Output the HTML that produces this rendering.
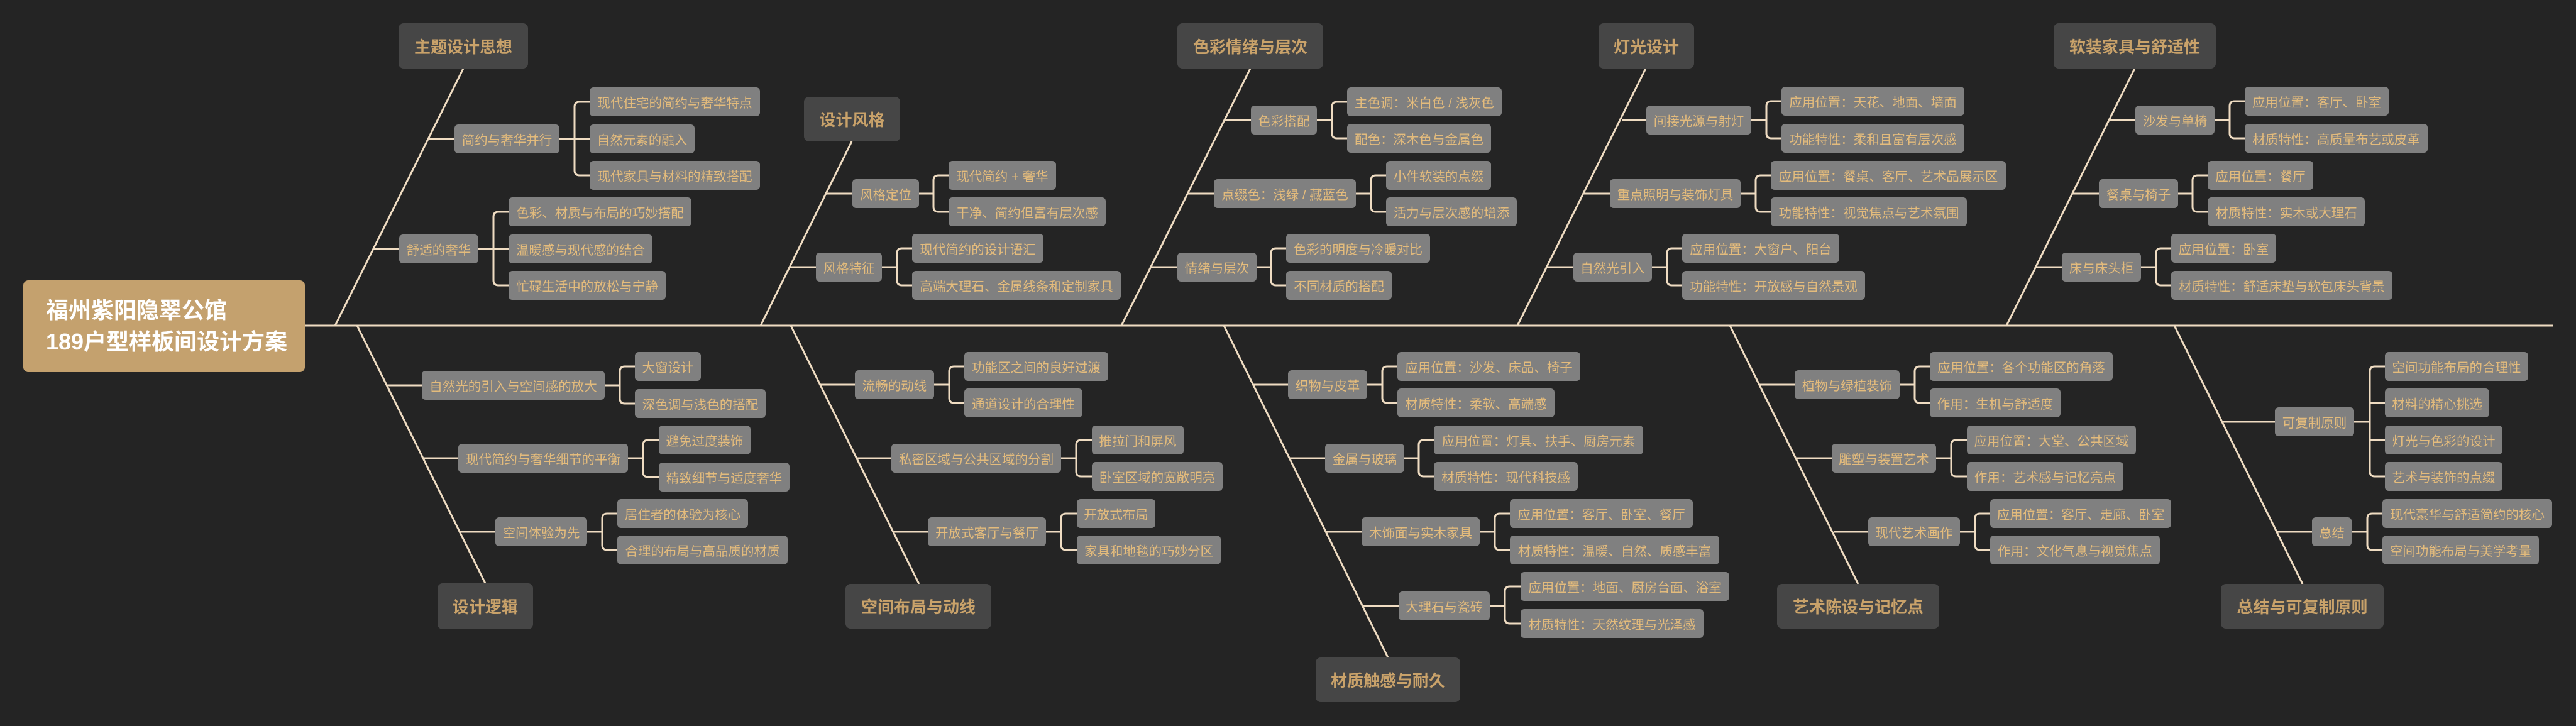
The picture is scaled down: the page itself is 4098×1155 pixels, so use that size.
<!DOCTYPE html>
<html><head><meta charset="utf-8"><style>
body{margin:0;background:#242424;width:4098px;height:1155px;overflow:hidden;position:relative;font-family:"Liberation Sans","Noto Sans CJK SC",sans-serif;}
svg{position:absolute;left:0;top:0}
.n,.c,.m{position:absolute;display:flex;align-items:center;justify-content:center;white-space:nowrap;box-sizing:border-box}
.n{background:#808080;color:#e3bb7c;font-size:20.5px;border-radius:6px;height:46px}
.c{background:#464646;color:#c9a26a;font-size:26px;font-weight:bold;border-radius:8px}
.m{background:#c4a16e;color:#fff;font-size:36px;font-weight:bold;border-radius:8px;flex-direction:column;align-items:flex-start;padding-left:36px;line-height:50px}
</style></head><body>
<svg width="4098" height="1155" fill="none" stroke="#efdcc2" stroke-width="3">
<path d="M485 518H4062"/>
<path d="M737 109L533 518M1355 225L1210 518M1989 109L1784 518M2618 109L2414 518M3396 109L3192 518"/>
<path d="M568 518L772 928M1258 518L1462 929M1947 518L2208 1046M2752 518L2956 929M3459 518L3663 929"/>
<!-- G1 -->
<path d="M681 221H723M890 221H938M914 221V170Q914 162 922 162H938M914 221V271Q914 279 922 279H938"/>
<!-- G2 -->
<path d="M594 396H635M761 396H809M785 396V345Q785 337 793 337H809M785 396V446Q785 454 793 454H809"/>
<path d="M1316 308H1356M1462 308H1485V287Q1485 279 1493 279H1509M1485 308V329Q1485 337 1493 337H1509"/>
<path d="M1257 425H1298M1403 425H1427V403Q1427 395 1435 395H1451M1427 425V446Q1427 454 1435 454H1451"/>
<path d="M1948 191H1990M2095 191H2119V170Q2119 162 2127 162H2143M2119 191V212Q2119 220 2127 220H2143"/>
<path d="M1890 308H1931M2157 308H2181V287Q2181 279 2189 279H2205M2181 308V329Q2181 337 2189 337H2205"/>
<path d="M1831 425H1873M1999 425H2022V403Q2022 395 2030 395H2046M2022 425V446Q2022 454 2030 454H2046"/>
<path d="M2580 191H2619M2786 191H2810V169Q2810 161 2818 161H2834M2810 191V212Q2810 220 2818 220H2834"/>
<path d="M2520 308H2561M2769 308H2793V287Q2793 279 2801 279H2817M2793 308V329Q2793 337 2801 337H2817"/>
<path d="M2461 425H2503M2628 425H2652V403Q2652 395 2660 395H2676M2652 425V446Q2652 454 2660 454H2676"/>
<path d="M3356 191H3397M3523 191H3547V169Q3547 161 3555 161H3571M3547 191V212Q3547 220 3555 220H3571"/>
<path d="M3297 308H3339M3465 308H3488V287Q3488 279 3496 279H3512M3488 308V329Q3488 337 3496 337H3512"/>
<path d="M3238 425H3280M3406 425H3430V403Q3430 395 3438 395H3454M3430 425V446Q3430 454 3438 454H3454"/>
<!-- bottom -->
<path d="M616 613H671M962 613H986V591Q986 583 994 583H1010M986 613V634Q986 642 994 642H1010"/>
<path d="M673 729H729M999 729H1023V708Q1023 700 1031 700H1048M1023 729V751Q1023 759 1031 759H1048"/>
<path d="M730 846H788M934 846H958V825Q958 817 966 817H982M958 846V867Q958 875 966 875H982"/>
<path d="M1305 612H1360M1486 612H1510V591Q1510 583 1518 583H1534M1510 612V633Q1510 641 1518 641H1534"/>
<path d="M1363 729H1418M1688 729H1712V708Q1712 700 1720 700H1737M1712 729V750Q1712 758 1720 758H1737"/>
<path d="M1421 846H1476M1664 846H1688V825Q1688 817 1696 817H1713M1688 846V867Q1688 875 1696 875H1713"/>
<path d="M1993 612H2049M2175 612H2199V591Q2199 583 2207 583H2223M2199 612V633Q2199 641 2207 641H2223"/>
<path d="M2052 729H2108M2234 729H2257V708Q2257 700 2265 700H2281M2257 729V750Q2257 758 2265 758H2281"/>
<path d="M2110 846H2166M2354 846H2378V825Q2378 817 2386 817H2402M2378 846V867Q2378 875 2386 875H2402"/>
<path d="M2169 964H2225M2370 964H2394V941Q2394 933 2402 933H2419M2394 964V984Q2394 992 2402 992H2419"/>
<path d="M2799 612H2855M3022 612H3046V591Q3046 583 3054 583H3070M3046 612V633Q3046 641 3054 641H3070"/>
<path d="M2858 729H2914M3080 729H3104V708Q3104 700 3112 700H3129M3104 729V750Q3104 758 3112 758H3129"/>
<path d="M2917 846H2972M3118 846H3142V825Q3142 817 3150 817H3166M3142 846V867Q3142 875 3150 875H3166"/>
<path d="M3534 671H3619M3745 671H3770M3770 591Q3770 583 3778 583H3794M3770 591V750Q3770 758 3778 758H3794M3770 641H3794M3770 700H3794"/>
<path d="M3622 846H3678M3741 846H3766V825Q3766 817 3774 817H3790M3766 846V867Q3766 875 3774 875H3790"/>
</svg>

<div class="m" style="left:37px;top:446px;width:448px;height:146px"><div>福州紫阳隐翠公馆</div><div>189户型样板间设计方案</div></div>

<div class="c" style="left:634px;top:37px;width:206px;height:72px">主题设计思想</div>
<div class="c" style="left:1279px;top:154px;width:153px;height:71px">设计风格</div>
<div class="c" style="left:1873px;top:37px;width:232px;height:72px">色彩情绪与层次</div>
<div class="c" style="left:2543px;top:37px;width:152px;height:72px">灯光设计</div>
<div class="c" style="left:3267px;top:37px;width:258px;height:72px">软装家具与舒适性</div>
<div class="c" style="left:696px;top:928px;width:152px;height:73px">设计逻辑</div>
<div class="c" style="left:1345px;top:929px;width:232px;height:71px">空间布局与动线</div>
<div class="c" style="left:2093px;top:1046px;width:230px;height:71px">材质触感与耐久</div>
<div class="c" style="left:2827px;top:929px;width:258px;height:71px">艺术陈设与记忆点</div>
<div class="c" style="left:3533px;top:929px;width:259px;height:71px">总结与可复制原则</div>

<div class="n" style="left:723px;top:198px;width:167px">简约与奢华并行</div>
<div class="n" style="left:938px;top:139px;width:271px">现代住宅的简约与奢华特点</div>
<div class="n" style="left:938px;top:198px;width:167px">自然元素的融入</div>
<div class="n" style="left:938px;top:256px;width:271px">现代家具与材料的精致搭配</div>
<div class="n" style="left:635px;top:373px;width:126px">舒适的奢华</div>
<div class="n" style="left:809px;top:314px;width:291px">色彩、材质与布局的巧妙搭配</div>
<div class="n" style="left:809px;top:373px;width:229px">温暖感与现代感的结合</div>
<div class="n" style="left:809px;top:431px;width:250px">忙碌生活中的放松与宁静</div>

<div class="n" style="left:1356px;top:285px;width:106px">风格定位</div>
<div class="n" style="left:1509px;top:256px;width:171px">现代简约 + 奢华</div>
<div class="n" style="left:1509px;top:314px;width:250px">干净、简约但富有层次感</div>
<div class="n" style="left:1298px;top:402px;width:105px">风格特征</div>
<div class="n" style="left:1451px;top:372px;width:209px">现代简约的设计语汇</div>
<div class="n" style="left:1451px;top:431px;width:332px">高端大理石、金属线条和定制家具</div>

<div class="n" style="left:1990px;top:168px;width:105px">色彩搭配</div>
<div class="n" style="left:2143px;top:139px;width:246px">主色调：米白色 / 浅灰色</div>
<div class="n" style="left:2143px;top:197px;width:229px">配色：深木色与金属色</div>
<div class="n" style="left:1931px;top:285px;width:226px">点缀色：浅绿 / 藏蓝色</div>
<div class="n" style="left:2205px;top:256px;width:167px">小件软装的点缀</div>
<div class="n" style="left:2205px;top:314px;width:208px">活力与层次感的增添</div>
<div class="n" style="left:1873px;top:402px;width:126px">情绪与层次</div>
<div class="n" style="left:2046px;top:372px;width:229px">色彩的明度与冷暖对比</div>
<div class="n" style="left:2046px;top:431px;width:168px">不同材质的搭配</div>

<div class="n" style="left:2619px;top:168px;width:167px">间接光源与射灯</div>
<div class="n" style="left:2834px;top:138px;width:291px">应用位置：天花、地面、墙面</div>
<div class="n" style="left:2834px;top:197px;width:291px">功能特性：柔和且富有层次感</div>
<div class="n" style="left:2561px;top:285px;width:208px">重点照明与装饰灯具</div>
<div class="n" style="left:2817px;top:256px;width:374px">应用位置：餐桌、客厅、艺术品展示区</div>
<div class="n" style="left:2817px;top:314px;width:312px">功能特性：视觉焦点与艺术氛围</div>
<div class="n" style="left:2503px;top:402px;width:125px">自然光引入</div>
<div class="n" style="left:2676px;top:372px;width:250px">应用位置：大窗户、阳台</div>
<div class="n" style="left:2676px;top:431px;width:291px">功能特性：开放感与自然景观</div>

<div class="n" style="left:3397px;top:168px;width:126px">沙发与单椅</div>
<div class="n" style="left:3571px;top:138px;width:229px">应用位置：客厅、卧室</div>
<div class="n" style="left:3571px;top:197px;width:291px">材质特性：高质量布艺或皮革</div>
<div class="n" style="left:3339px;top:285px;width:126px">餐桌与椅子</div>
<div class="n" style="left:3512px;top:256px;width:168px">应用位置：餐厅</div>
<div class="n" style="left:3512px;top:314px;width:250px">材质特性：实木或大理石</div>
<div class="n" style="left:3280px;top:402px;width:126px">床与床头柜</div>
<div class="n" style="left:3454px;top:372px;width:167px">应用位置：卧室</div>
<div class="n" style="left:3454px;top:431px;width:352px">材质特性：舒适床垫与软包床头背景</div>

<div class="n" style="left:671px;top:590px;width:291px">自然光的引入与空间感的放大</div>
<div class="n" style="left:1010px;top:560px;width:105px">大窗设计</div>
<div class="n" style="left:1010px;top:619px;width:208px">深色调与浅色的搭配</div>
<div class="n" style="left:729px;top:706px;width:270px">现代简约与奢华细节的平衡</div>
<div class="n" style="left:1048px;top:677px;width:146px">避免过度装饰</div>
<div class="n" style="left:1048px;top:736px;width:208px">精致细节与适度奢华</div>
<div class="n" style="left:788px;top:823px;width:146px">空间体验为先</div>
<div class="n" style="left:982px;top:794px;width:208px">居住者的体验为核心</div>
<div class="n" style="left:982px;top:852px;width:271px">合理的布局与高品质的材质</div>

<div class="n" style="left:1360px;top:589px;width:126px">流畅的动线</div>
<div class="n" style="left:1534px;top:560px;width:229px">功能区之间的良好过渡</div>
<div class="n" style="left:1534px;top:618px;width:188px">通道设计的合理性</div>
<div class="n" style="left:1418px;top:706px;width:270px">私密区域与公共区域的分割</div>
<div class="n" style="left:1737px;top:677px;width:146px">推拉门和屏风</div>
<div class="n" style="left:1737px;top:735px;width:208px">卧室区域的宽敞明亮</div>
<div class="n" style="left:1476px;top:823px;width:188px">开放式客厅与餐厅</div>
<div class="n" style="left:1713px;top:794px;width:125px">开放式布局</div>
<div class="n" style="left:1713px;top:852px;width:229px">家具和地毯的巧妙分区</div>

<div class="n" style="left:2049px;top:589px;width:126px">织物与皮革</div>
<div class="n" style="left:2223px;top:560px;width:291px">应用位置：沙发、床品、椅子</div>
<div class="n" style="left:2223px;top:618px;width:250px">材质特性：柔软、高端感</div>
<div class="n" style="left:2108px;top:706px;width:126px">金属与玻璃</div>
<div class="n" style="left:2281px;top:677px;width:333px">应用位置：灯具、扶手、厨房元素</div>
<div class="n" style="left:2281px;top:735px;width:229px">材质特性：现代科技感</div>
<div class="n" style="left:2166px;top:823px;width:188px">木饰面与实木家具</div>
<div class="n" style="left:2402px;top:794px;width:291px">应用位置：客厅、卧室、餐厅</div>
<div class="n" style="left:2402px;top:852px;width:333px">材质特性：温暖、自然、质感丰富</div>
<div class="n" style="left:2225px;top:941px;width:145px">大理石与瓷砖</div>
<div class="n" style="left:2419px;top:910px;width:332px">应用位置：地面、厨房台面、浴室</div>
<div class="n" style="left:2419px;top:969px;width:291px">材质特性：天然纹理与光泽感</div>

<div class="n" style="left:2855px;top:589px;width:167px">植物与绿植装饰</div>
<div class="n" style="left:3070px;top:560px;width:291px">应用位置：各个功能区的角落</div>
<div class="n" style="left:3070px;top:618px;width:208px">作用：生机与舒适度</div>
<div class="n" style="left:2914px;top:706px;width:166px">雕塑与装置艺术</div>
<div class="n" style="left:3129px;top:677px;width:269px">应用位置：大堂、公共区域</div>
<div class="n" style="left:3129px;top:735px;width:249px">作用：艺术感与记忆亮点</div>
<div class="n" style="left:2972px;top:823px;width:146px">现代艺术画作</div>
<div class="n" style="left:3166px;top:794px;width:288px">应用位置：客厅、走廊、卧室</div>
<div class="n" style="left:3166px;top:852px;width:270px">作用：文化气息与视觉焦点</div>

<div class="n" style="left:3619px;top:648px;width:126px">可复制原则</div>
<div class="n" style="left:3794px;top:560px;width:228px">空间功能布局的合理性</div>
<div class="n" style="left:3794px;top:618px;width:166px">材料的精心挑选</div>
<div class="n" style="left:3794px;top:677px;width:187px">灯光与色彩的设计</div>
<div class="n" style="left:3794px;top:735px;width:187px">艺术与装饰的点缀</div>
<div class="n" style="left:3678px;top:823px;width:63px">总结</div>
<div class="n" style="left:3790px;top:794px;width:270px">现代豪华与舒适简约的核心</div>
<div class="n" style="left:3790px;top:852px;width:249px">空间功能布局与美学考量</div>
</body></html>
